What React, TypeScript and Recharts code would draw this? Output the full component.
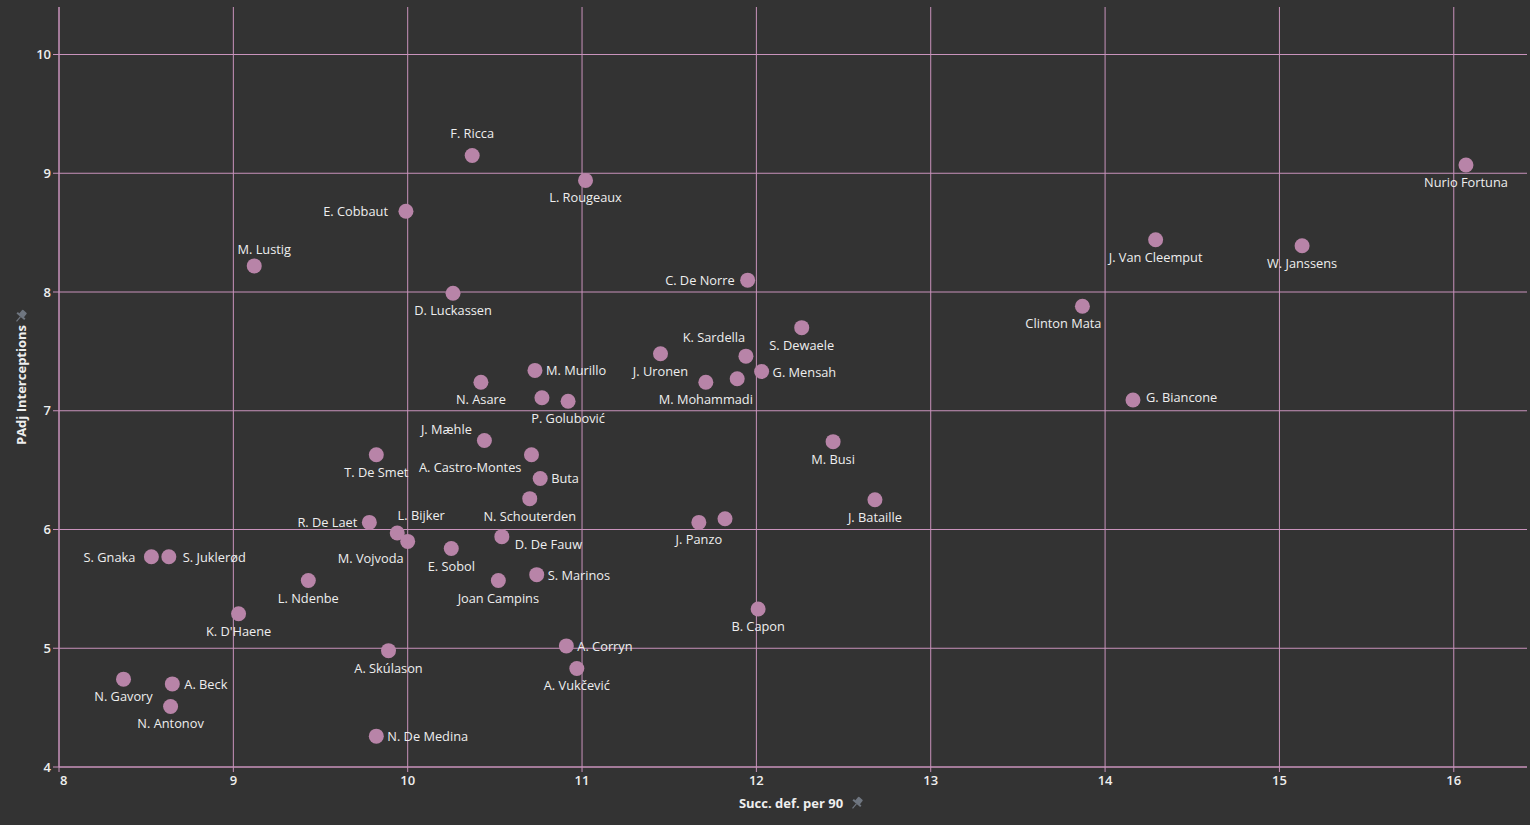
import React from 'react';
import { CartesianGrid, Scatter, ScatterChart, XAxis, YAxis } from 'recharts';

// player names ('' = point without a label)
const PLAYERS = [
  'F. Ricca', 'L. Rougeaux', 'E. Cobbaut', 'M. Lustig', 'D. Luckassen', 'C. De Norre',
  'S. Dewaele', 'K. Sardella', 'J. Uronen', 'M. Mohammadi', '', 'G. Mensah',
  'M. Murillo', 'N. Asare', '', 'P. Golubović', 'J. Mæhle', 'A. Castro-Montes',
  'Buta', 'T. De Smet', 'N. Schouterden', 'R. De Laet', 'L. Bijker', 'M. Vojvoda',
  'E. Sobol', 'D. De Fauw', 'Joan Campins', 'S. Marinos', 'L. Ndenbe', 'S. Gnaka',
  'S. Juklerød', "K. D'Haene", 'A. Skúlason', 'N. De Medina', 'A. Corryn', 'A. Vukčević',
  'N. Gavory', 'A. Beck', 'N. Antonov', 'J. Panzo', '', 'B. Capon',
  'M. Busi', 'J. Bataille', 'G. Biancone', 'Clinton Mata', 'J. Van Cleemput', 'W. Janssens',
  'Nurio Fortuna',
];

// Succ. def. per 90
const SUCC_DEF = [
  10.37, 11.02, 9.99, 9.12, 10.26, 11.95,
  12.26, 11.94, 11.45, 11.71, 11.89, 12.03,
  10.73, 10.42, 10.77, 10.92, 10.44, 10.71,
  10.76, 9.82, 10.7, 9.78, 9.94, 10.0,
  10.25, 10.54, 10.52, 10.74, 9.43, 8.53,
  8.63, 9.03, 9.89, 9.82, 10.91, 10.97,
  8.37, 8.65, 8.64, 11.67, 11.82, 12.01,
  12.44, 12.68, 14.16, 13.87, 14.29, 15.13,
  16.07,
];

// PAdj Interceptions
const PADJ_INT = [
  9.15, 8.94, 8.68, 8.22, 7.99, 8.1,
  7.7, 7.46, 7.48, 7.24, 7.27, 7.33,
  7.34, 7.24, 7.11, 7.08, 6.75, 6.63,
  6.43, 6.63, 6.26, 6.06, 5.97, 5.9,
  5.84, 5.94, 5.57, 5.62, 5.57, 5.77,
  5.77, 5.29, 4.98, 4.26, 5.02, 4.83,
  4.74, 4.7, 4.51, 6.06, 6.09, 5.33,
  6.74, 6.25, 7.09, 7.88, 8.44, 8.39,
  9.07,
];

const X_TICKS = [8, 9, 10, 11, 12, 13, 14, 15, 16];
const Y_TICKS = [4, 5, 6, 7, 8, 9, 10];

const BG = '#333333';
const GRID = '#c993bc';
const DOT = '#b884a8';
const TEXT = '#eeeeee';
const FONT = '"Open Sans", Lato, sans-serif';

// label placement: [anchor, dx, dy]
type Place = [string, number, number];
const T: Place = ['middle', 0, -22];
const B: Place = ['middle', 0, 17];
const L: Place = ['end', -13, 0];
const R: Place = ['start', 11, 0];
const LABEL_PLACE: Record<string, Place> = {
  'F. Ricca': T,
  'M. Lustig': ['middle', 10, -17],
  'K. Sardella': ['middle', -32, -19],
  'J. Mæhle': ['middle', -38, -11],
  'L. Bijker': ['middle', 24, -18],
  'M. Vojvoda': ['middle', -37, 17],
  'A. Castro-Montes': ['end', -10, 12],
  'D. De Fauw': ['start', 13, 7],
  'Clinton Mata': ['middle', -19, 17],
  'E. Cobbaut': ['end', -18, 0],
  'R. De Laet': ['end', -12, 0],
  'S. Gnaka': ['end', -16, 0],
  'C. De Norre': L,
  'G. Biancone': ['start', 13, -3],
  'S. Juklerød': ['start', 14, 0],
  'M. Murillo': R,
  'G. Mensah': R,
  'Buta': R,
  'S. Marinos': R,
  'A. Corryn': R,
  'A. Beck': ['start', 12, 0],
  'N. De Medina': R,
};

const data = PLAYERS.map((name, i) => ({ name, x: SUCC_DEF[i], y: PADJ_INT[i] }));

function Dot(props: any) {
  const { cx, cy, payload } = props;
  const name = payload.name;
  const place = LABEL_PLACE[name] || B;
  return (
    <g>
      <circle cx={cx} cy={cy} r={7.5} fill={DOT} />
      {name ? (
        <text
          x={cx + place[1]}
          y={cy + place[2]}
          textAnchor={place[0] as any}
          dominantBaseline="central"
          fill={TEXT}
          fontSize={12.8}
          fontFamily={FONT}
        >
          {name}
        </text>
      ) : null}
    </g>
  );
}

function XTick(props: any) {
  const { x, y, payload, index } = props;
  return (
    <text
      x={index === 0 ? x + 1 : x}
      y={y + 5}
      textAnchor={index === 0 ? 'start' : 'middle'}
      dominantBaseline="central"
      fill={TEXT}
      fontSize={13}
      fontWeight={600}
      fontFamily={FONT}
    >
      {payload.value}
    </text>
  );
}

function Pin({ x, y }: { x: number; y: number }) {
  return (
    <g transform={`translate(${x},${y}) rotate(40)`} fill="#6f7680" stroke="#6f7680">
      <rect x={-3} y={-6} width={6} height={6} rx={1} stroke="none" />
      <rect x={-5} y={-1} width={10} height={2} stroke="none" />
      <line x1={0} y1={1} x2={0} y2={7} strokeWidth={1.2} />
    </g>
  );
}

function XTitle(props: any) {
  const vb = props.viewBox || {};
  const cx = vb.x + vb.width / 2 - 2;
  return (
    <g>
      <text x={cx} y={803} textAnchor="middle" dominantBaseline="central" fill={TEXT} fontSize={13} fontWeight={700} fontFamily={FONT}>
        Succ. def. per 90
      </text>
      <Pin x={cx + 66} y={803} />
    </g>
  );
}

function YTitle(props: any) {
  const vb = props.viewBox || {};
  const cy = vb.y + vb.height / 2 - 2;
  return (
    <g>
      <text
        x={21}
        y={cy}
        transform={`rotate(-90, 21, ${cy})`}
        textAnchor="middle"
        dominantBaseline="central"
        fill={TEXT}
        fontSize={13}
        fontWeight={700}
        fontFamily={FONT}
      >
        PAdj Interceptions
      </text>
      <Pin x={21} y={cy - 69} />
    </g>
  );
}

export default function App() {
  return (
    <div style={{ position: 'absolute', left: 0, top: 0, width: 1530, height: 825, background: BG }}>
      <ScatterChart width={1530} height={825} margin={{ top: 7, right: 3, bottom: 0, left: 0 }}>
        <CartesianGrid stroke={GRID} strokeWidth={1} horizontalValues={Y_TICKS} verticalValues={X_TICKS} />
        <XAxis
          type="number"
          dataKey="x"
          domain={[8, 16.42]}
          ticks={X_TICKS}
          height={58}
          tickSize={5}
          tickMargin={3}
          tick={<XTick />}
          tickLine={{ stroke: GRID }}
          axisLine={{ stroke: GRID }}
          label={<XTitle />}
        />
        <YAxis
          type="number"
          dataKey="y"
          domain={[4, 10.4]}
          ticks={Y_TICKS}
          width={59}
          tickSize={6}
          tickMargin={2}
          tick={{ fill: TEXT, fontSize: 13, fontWeight: 600, fontFamily: FONT }}
          tickLine={{ stroke: GRID }}
          axisLine={{ stroke: GRID }}
          label={<YTitle />}
        />
        <Scatter data={data} shape={Dot} isAnimationActive={false} />
      </ScatterChart>
    </div>
  );
}
